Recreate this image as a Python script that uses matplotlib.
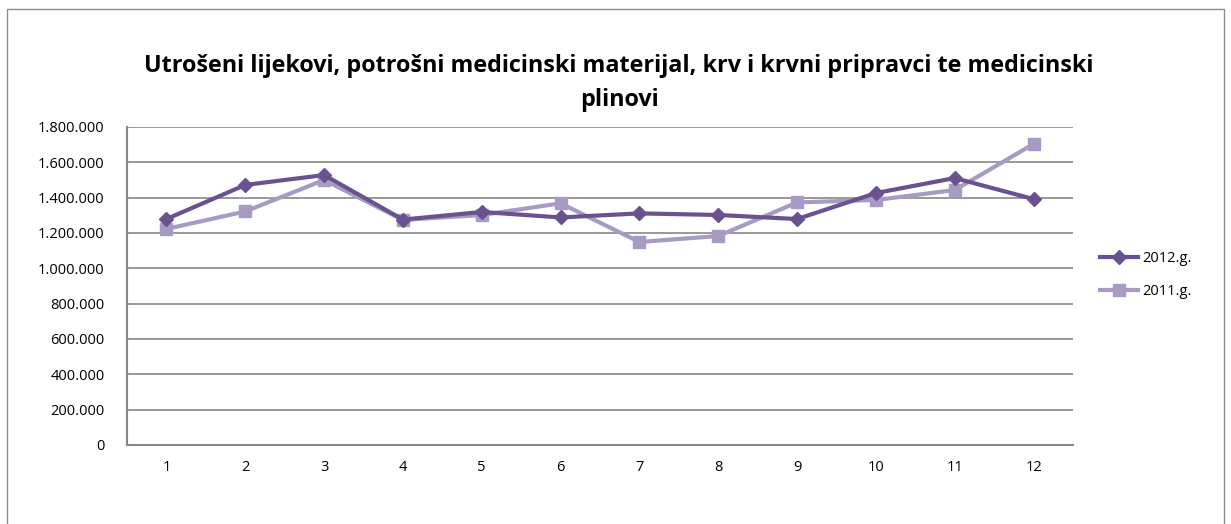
import matplotlib.pyplot as plt
from matplotlib.patches import Rectangle
from matplotlib.ticker import FuncFormatter

plt.rcParams['font.family'] = ['Open Sans', 'DejaVu Sans']

# Data
months = [1, 2, 3, 4, 5, 6, 7, 8, 9, 10, 11, 12]
y2012 = [1279000, 1472000, 1528000, 1276000, 1319000, 1288000, 1311000, 1302000, 1279000, 1426000, 1511000, 1392000]
y2011 = [1223000, 1322000, 1500000, 1274000, 1302000, 1368000, 1149000, 1183000, 1373000, 1387000, 1443000, 1704000]
labels = ['2012.g.', '2011.g.']
title = 'Utrošeni lijekovi, potrošni medicinski materijal, krv i krvni pripravci te medicinski\nplinovi'

c_dark = '#6A5291'
c_light = '#A89BC3'
grid_c = '#878787'

fig = plt.figure(figsize=(12.31, 5.24), dpi=100)
fig.patches.append(Rectangle((7 / 1231, -0.01), 1217 / 1231, 1 - 9 / 524 + 0.01, transform=fig.transFigure,
                             fill=False, edgecolor='#8C8C8C', linewidth=1))

ax = fig.add_axes([127 / 1231, 1 - 445 / 524, 946 / 1231, 318 / 524])
ax.plot(months, y2012, color=c_dark, linewidth=3, marker='D', markersize=7, label=labels[0], zorder=3)
ax.plot(months, y2011, color=c_light, linewidth=3, marker='s', markersize=9, label=labels[1], zorder=2)

ax.set_xlim(0.5, 12.5)
ax.set_ylim(0, 1800000)
ax.set_yticks(range(0, 1800001, 200000))
ax.set_xticks(months)
ax.yaxis.set_major_formatter(FuncFormatter(lambda v, p: f'{int(v):,}'.replace(',', '.')))
ax.grid(axis='y', color=grid_c, linewidth=1.2)
ax.set_axisbelow(True)
for s in ['top', 'right']:
    ax.spines[s].set_visible(False)
for s in ['left', 'bottom']:
    ax.spines[s].set_color(grid_c)
    ax.spines[s].set_linewidth(1.5)
ax.tick_params(length=0, labelsize=10.5, pad=11)
ax.tick_params(axis='y', pad=16)

fig.text(619 / 1231, 1 - 83 / 524, title, ha='center', va='center', fontsize=16.8,
         fontweight='bold', linespacing=1.55)

ax.legend(loc='center left', bbox_to_anchor=(1.015, 0.535), frameon=False, fontsize=10.5,
          handlelength=2.6, labelspacing=1.2, handletextpad=0.3)

fig.savefig('out.png', dpi=100)
